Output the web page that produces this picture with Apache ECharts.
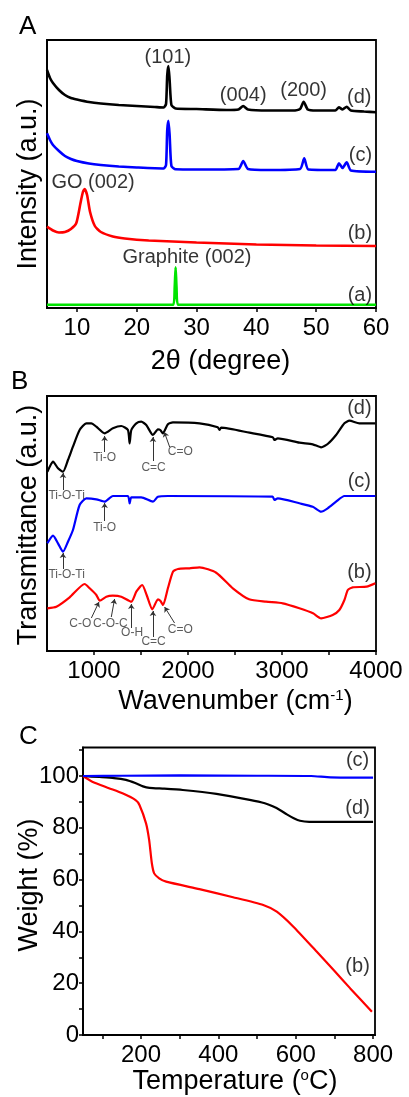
<!DOCTYPE html>
<html>
<head>
<meta charset="utf-8">
<script src="https://cdn.jsdelivr.net/npm/echarts@6/dist/echarts.min.js"></script>
<style>
  html, body { margin: 0; padding: 0; background: #fff; }
  #chart { width: 409px; height: 1097px; }
</style>
</head>
<body>
<div id="chart"></div>
<script>
// ---------- Panel A: XRD patterns, [2θ (deg), intensity (a.u.)] ----------
const xrdD = [[5,237],[5.5,229],[6,224],[7,217],[8,212],[9,209],[10,207.5],[12,205],[14,203.5],[17,202],[20,201],[23,200],[24.5,199.5],[24.9,203],[25.1,232],[25.3,241],[25.5,227],[25.8,202],[26.5,198.5],[30,198],[35,197],[37,197.5],[37.8,201],[38.6,197.5],[42,196.5],[46,196.5],[47.3,198],[47.9,205.3],[48.6,197.5],[50,196.5],[53.2,196.5],[53.8,199.7],[54.4,197.5],[55.1,200.3],[55.8,196.5],[58,195.5],[60,194.7]];
const xrdC = [[5,173.7],[5.5,167],[6,162],[7,156],[8,151],[9,148],[10,146],[12,143.5],[14,142],[17,140.5],[20,139.5],[24.5,138.5],[24.9,142],[25.1,177],[25.3,186.3],[25.5,172],[25.8,141],[26.5,137.7],[30,137.5],[37,138],[37.8,146],[38.6,138],[42,137],[47.3,138],[48,148.7],[48.7,137.5],[53.2,137],[53.8,143.7],[54.4,139],[55.1,144.7],[55.8,136.5],[60,135.3]];
const xrdB = [[5,80.3],[6,76.5],[7,74.5],[8,75],[9,78],[9.9,84],[10.6,104],[11,115],[11.3,118],[11.7,112],[12.2,95],[13,81],[14,75],[16,70.5],[18,68.5],[22,66.5],[30,64.5],[40,62.5],[50,61.5],[60,61]];
const xrdA = [[5,2.2],[26.1,2.2],[26.35,20],[26.5,39.7],[26.65,20],[26.9,2.2],[60,2.2]];
const xrdTicks = [10, 20, 30, 40, 50, 60];
const xrdText = [[25.2,250,'(101)'],[37.8,212,'(004)'],[47.9,217,'(200)'],[57.2,210,'(d)'],[57.4,152,'(c)'],[12.7,124.5,'GO (002)'],[57.3,74,'(b)'],[28.4,49.3,'Graphite (002)'],[57.3,12,'(a)']];

// ---------- Panel B: FTIR spectra, [wavenumber (cm-1), transmittance (a.u.)] ----------
const ftirD = [[504,179.3],[529,184.3],[564,189.3],[617,182.7],[670,179.3],[723,191],[776,204.3],[847,221],[919,227.7],[972,227.7],[1025,224.3],[1113,217.7],[1201,222.7],[1290,225],[1361,221],[1379,207.7],[1397,221],[1450,227.7],[1503,229.3],[1556,226],[1627,216],[1680,221.7],[1705,221],[1733,217.7],[1786,226.7],[1839,228.7],[2123,227.7],[2317,223.7],[2335,221],[2353,223.3],[2654,218.3],[2902,213.7],[2920,211],[2955,212.7],[3185,208.3],[3327,206.7],[3416,203.7],[3486,207],[3575,216],[3664,227.7],[3717,230.3],[3823,227.7],[3993,227.7]];
const ftirC = [[504,107.7],[564,115.3],[617,107.7],[670,99.3],[723,109.3],[776,121],[847,146],[919,152.7],[1025,151.7],[1113,149.3],[1201,155],[1361,155],[1379,147.7],[1397,153.7],[1503,153.7],[1627,149.3],[1680,154.3],[1786,155],[2900,154.3],[2920,151],[2955,152.7],[3185,147.7],[3327,144.3],[3416,139.3],[3486,142.7],[3575,149.3],[3664,155],[3993,155]];
const ftirB = [[504,42.7],[600,44.3],[741,53.7],[901,67],[954,62.7],[1025,56],[1061,50.3],[1131,54.3],[1200,55.3],[1290,54.3],[1397,49.3],[1450,59.3],[1513,66],[1560,56],[1620,41.7],[1680,51.7],[1705,50.3],[1735,46],[1786,62.7],[1840,79.3],[1893,82],[2016,82.7],[2123,83.7],[2300,78.3],[2477,62.7],[2650,51.7],[2831,49.3],[3008,47.7],[3185,42.7],[3330,37.7],[3416,32.7],[3539,36],[3610,41],[3664,51],[3700,61],[3752,63.7],[3900,64.3],[3993,67.7]];
const ftirLabelTicks = [1000, 2000, 3000, 4000];
const ftirTicks = [1000, 1500, 2000, 2500, 3000, 3500, 4000];
const ftirText = [[3823,243,'(d)'],[3823,169.5,'(c)'],[3823,78.5,'(b)']];
// band assignments: text, arrow tip, arrow tail, text anchor
const bandNames = ['Ti-O-Ti','Ti-O','C=C','C=O','Ti-O','Ti-O-Ti','C-O','C-O-C','O-H','C=C','C=O'];
const bandTips  = [[670,178],[1113,215],[1627,214],[1748,219],[1113,148],[670,98],[1053,49],[1219,52],[1397,47],[1627,40],[1751,44]];
const bandTails = [[670,161],[1113,199],[1627,190],[1805,204],[1113,130],[670,82],[972,33],[1184,34],[1397,23],[1627,14],[1857,28]];
const bandText  = [[709,155],[1113,193],[1634,183],[1918,199],[1113,123],[709,76],[855,27],[1175,27],[1405,18],[1634,9],[1918,21]];

// ---------- Panel C: TGA curves, [temperature (°C), weight (%)] ----------
const tgaC = [[50,100],[150,100.1],[300,100.2],[500,100.1],[640,100],[690,99.5],[800,99.4]];
const tgaD = [[50,100],[92,99.6],[130,99.2],[161,98.5],[185,97.3],[205,96],[222,95.4],[260,95.1],[308,94.6],[395,93.1],[481,90.8],[520,89.5],[542,88.2],[560,86.8],[577,85.2],[595,83.7],[611,82.7],[635,82.3],[655,82.3],[800,82.3]];
const tgaB = [[50,100],[74,97.8],[117,95.3],[152,93.3],[186,90.7],[196,88.8],[213,81.7],[221,75.3],[228,66.3],[234,62.4],[247,60.5],[265,59.2],[351,56.3],[438,53.2],[516,50.2],[551,47.6],[594,41.8],[654,32.2],[698,25.1],[741,18],[797,9]];
const tgaXLabels = [200, 400, 600, 800];
const tgaXTicks = [100, 200, 300, 400, 500, 600, 700, 800];
const tgaYLabels = [0, 20, 40, 60, 80, 100];
const tgaYTicks = [0, 10, 20, 30, 40, 50, 60, 70, 80, 90, 100, 110];
const tgaText = [[760,105.8,'(c)'],[760,87.6,'(d)'],[760,26.6,'(b)']];

const FONT = "'Liberation Sans', Arial, sans-serif";
const INK = '#000';

function frameAxisX(grid, min, max, labels, ticks, name, nameGap, pad) {
  return {
    gridIndex: grid, type: 'value', min: min, max: max,
    axisLine: { show: true, onZero: false, lineStyle: { color: INK, width: 1.8 } },
    axisTick: { show: true, inside: false, length: 4, customValues: ticks, lineStyle: { color: INK, width: 1.5 } },
    axisLabel: { customValues: labels, color: INK, fontSize: 24, margin: 8, fontFamily: FONT, formatter: v => String(v) },
    splitLine: { show: false },
    name: name, nameLocation: 'middle', nameGap: nameGap,
    nameTextStyle: { color: INK, fontSize: 27, fontFamily: FONT, padding: pad,
      rich: { sup: { fontSize: 15, verticalAlign: 'top', padding: [0, 0, 12, 0], color: INK, fontFamily: FONT } } }
  };
}

function frameAxisY(grid, min, max) {
  return {
    gridIndex: grid, type: 'value', min: min, max: max,
    axisLine: { show: true, lineStyle: { color: INK, width: 1.8 } },
    axisTick: { show: false }, axisLabel: { show: false }, splitLine: { show: false }
  };
}

function textSeries(grid, rows, size, color) {
  return {
    type: 'scatter', xAxisIndex: grid, yAxisIndex: grid, symbolSize: 1,
    itemStyle: { color: 'transparent' }, silent: true, z: 5,
    data: rows.map(r => ({ value: [r[0], r[1]], name: r[2] })),
    label: { show: true, position: 'inside', formatter: p => p.name,
      color: color, textBorderWidth: 0, fontSize: size, fontFamily: FONT }
  };
}

function lineSeries(grid, data, color, width) {
  return {
    type: 'line', xAxisIndex: grid, yAxisIndex: grid, data: data,
    showSymbol: false, smooth: 0.2, lineStyle: { color: color, width: width }, z: 3
  };
}

// rotated axis titles placed beside each frame
function sideTitle(text, x, y) {
  return { type: 'text', x: x, y: y, rotation: Math.PI / 2,
    style: { text: text, fontSize: 27, fontFamily: FONT, fill: INK, align: 'center', verticalAlign: 'middle' } };
}

const chart = echarts.init(document.getElementById('chart'), null, { renderer: 'canvas' });
const yC = frameAxisY(2, 0, 111);
yC.axisTick = { show: true, inside: false, length: 4, customValues: tgaYTicks, lineStyle: { color: INK, width: 1.5 } };
yC.axisLabel = { show: true, customValues: tgaYLabels, color: INK, fontSize: 24, margin: 4, fontFamily: FONT };

chart.setOption({
  animation: false,
  backgroundColor: '#fff',
  textStyle: { fontFamily: FONT },
  grid: [
    { left: 47, top: 40, width: 329, height: 268, show: true, borderColor: INK, borderWidth: 1.8, backgroundColor: 'transparent' },
    { left: 47, top: 396, width: 329, height: 255, show: true, borderColor: INK, borderWidth: 1.8, backgroundColor: 'transparent' },
    { left: 83, top: 747.5, width: 292, height: 287.5, show: true, borderColor: INK, borderWidth: 1.8, backgroundColor: 'transparent' }
  ],
  xAxis: [
    frameAxisX(0, 5, 60, xrdTicks, xrdTicks, '2θ (degree)', 40, [0, 0, 0, 18]),
    frameAxisX(1, 500, 4000, ftirLabelTicks, ftirTicks, 'Wavenumber (cm{sup|-1})', 37, [0, 0, 0, 48]),
    frameAxisX(2, 50, 805, tgaXLabels, tgaXTicks, 'Temperature ({sup|o}C)', 31, [0, 0, 0, 12])
  ],
  yAxis: [ frameAxisY(0, -1, 267), frameAxisY(1, 0, 255), yC ],
  graphic: [
    { type: 'text', left: 19, top: 14, style: { text: 'A', fontSize: 26, fontFamily: FONT, fill: INK } },
    { type: 'text', left: 11, top: 369, style: { text: 'B', fontSize: 26, fontFamily: FONT, fill: INK } },
    { type: 'text', left: 19, top: 724, style: { text: 'C', fontSize: 26, fontFamily: FONT, fill: INK } },
    sideTitle('Intensity (a.u.)', 29, 184),
    sideTitle('Transmittance (a.u.)', 29, 525),
    sideTitle('Weight (%)', 30, 885)
  ],
  series: [
    lineSeries(0, xrdA, '#00e400', 2.6),
    lineSeries(0, xrdB, '#ff0000', 2.6),
    lineSeries(0, xrdC, '#0000ff', 2.6),
    lineSeries(0, xrdD, '#000000', 2.6),
    textSeries(0, xrdText, 20, INK),

    lineSeries(1, ftirB, '#ff0000', 2.2),
    lineSeries(1, ftirC, '#0000ff', 2.2),
    lineSeries(1, ftirD, '#000000', 2.2),
    textSeries(1, ftirText, 20, INK),
    textSeries(1, bandNames.map((t, i) => [bandText[i][0], bandText[i][1], t]), 12, '#333'),
    {
      type: 'lines', coordinateSystem: 'cartesian2d', xAxisIndex: 1, yAxisIndex: 1, silent: true, z: 4,
      symbol: ['none', 'arrow'], symbolSize: 5,
      lineStyle: { color: '#333', width: 1, opacity: 1, curveness: 0 },
      data: bandNames.map((t, i) => ({ coords: [bandTails[i], bandTips[i]] }))
    },

    lineSeries(2, tgaB, '#ff0000', 2.2),
    lineSeries(2, tgaD, '#000000', 2.2),
    lineSeries(2, tgaC, '#0000ff', 2.2),
    textSeries(2, tgaText, 20, INK)
  ]
});
</script>
</body>
</html>
